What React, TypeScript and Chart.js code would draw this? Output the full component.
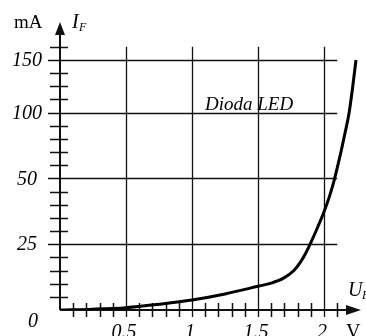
import React, { useEffect, useRef } from "react";
import { Chart, registerables } from "chart.js";

Chart.register(...registerables);

// Forward voltage (V) and forward current (mA) of the LED
const voltages = [0, 0.25, 0.5, 0.75, 1.0, 1.25, 1.5, 1.6, 1.69, 1.77, 1.82, 1.86, 1.9, 1.95, 2.0, 2.04, 2.075, 2.1, 2.13, 2.16, 2.19, 2.215, 2.242];
const currents = [0, 0.3, 0.9, 2.2, 3.8, 6.1, 9, 10.2, 12, 14.9, 18.1, 21.5, 25.6, 31.25, 37.35, 43, 49, 58, 71, 85, 100, 122.5, 150];

// X axis ticks
const xMajorTicks = [0.5, 1, 1.5, 2];
const xTickLabels = ["0.5", "1", "1.5", "2"];
const xMinorStep = 0.1;
const xMinorCount = 21;

// Y axis: non-linear (piecewise) scale in mA
const yTickValues = [25, 50, 100, 150];
const yTickLabels = ["25", "50", "100", "150"];
const yBreaksMA = [0, 25, 50, 100, 150, 162.5];
const yBreaksUnits = [0, 5, 10, 15, 19, 20];

const seriesLabel = "Dioda LED";

function toUnits(mA: number): number {
  for (let i = 0; i < yBreaksMA.length - 1; i++) {
    const a = yBreaksMA[i], b = yBreaksMA[i + 1];
    if (mA <= b || i === yBreaksMA.length - 2) {
      const t = (mA - a) / (b - a);
      return yBreaksUnits[i] + t * (yBreaksUnits[i + 1] - yBreaksUnits[i]);
    }
  }
  return 0;
}

const FONT = "'Liberation Serif', 'Times New Roman', serif";

const axesPlugin = {
  id: "axesPlugin",
  beforeDatasetsDraw(chart: any) {
    const ctx = chart.ctx as CanvasRenderingContext2D;
    const xs = chart.scales.x;
    const ys = chart.scales.y;
    const x0 = xs.getPixelForValue(0);
    const y0 = ys.getPixelForValue(0);
    const yTop = ys.getPixelForValue(20);
    const xRightGrid = xs.getPixelForValue(2.1);
    const xEnd = chart.chartArea.right;
    const yEnd = chart.chartArea.top;
    ctx.save();
    ctx.strokeStyle = "#111";
    ctx.fillStyle = "#111";

    // Grid lines
    ctx.lineWidth = 1.3;
    ctx.beginPath();
    xMajorTicks.forEach((v) => {
      const px = Math.round(xs.getPixelForValue(v)) + 0.5;
      ctx.moveTo(px, y0 + 7);
      ctx.lineTo(px, yTop);
    });
    yTickValues.forEach((v) => {
      const py = Math.round(ys.getPixelForValue(toUnits(v))) + 0.5;
      ctx.moveTo(x0 - 12, py);
      ctx.lineTo(xRightGrid, py);
    });
    ctx.stroke();

    // Minor ticks
    ctx.lineWidth = 1.5;
    ctx.beginPath();
    for (let i = 1; i <= xMinorCount; i++) {
      const v = i * xMinorStep;
      if (xMajorTicks.some((m) => Math.abs(m - v) < 1e-6)) continue;
      const px = Math.round(xs.getPixelForValue(v)) + 0.5;
      ctx.moveTo(px, y0 - 7);
      ctx.lineTo(px, y0 + 7);
    }
    for (let u = 1; u <= 20; u++) {
      if (yBreaksUnits.slice(1, 5).includes(u)) continue;
      const py = Math.round(ys.getPixelForValue(u)) + 0.5;
      ctx.moveTo(x0 - 10, py);
      ctx.lineTo(x0 + 8, py);
    }
    ctx.stroke();

    // Axes
    ctx.lineWidth = 2;
    ctx.beginPath();
    ctx.moveTo(x0, y0);
    ctx.lineTo(xEnd - 10, y0);
    ctx.moveTo(x0, y0);
    ctx.lineTo(x0, yEnd + 10);
    ctx.stroke();
    // Arrow heads
    ctx.beginPath();
    ctx.moveTo(xEnd, y0);
    ctx.lineTo(xEnd - 15, y0 - 5);
    ctx.lineTo(xEnd - 15, y0 + 5);
    ctx.closePath();
    ctx.fill();
    ctx.beginPath();
    ctx.moveTo(x0, yEnd);
    ctx.lineTo(x0 - 5, yEnd + 13);
    ctx.lineTo(x0 + 5, yEnd + 13);
    ctx.closePath();
    ctx.fill();

    // Tick labels
    ctx.fillStyle = "#000";
    ctx.font = `italic 20px ${FONT}`;
    ctx.textAlign = "center";
    ctx.textBaseline = "middle";
    yTickValues.forEach((v, i) => {
      const py = ys.getPixelForValue(toUnits(v));
      ctx.fillText(yTickLabels[i], 27, py + 1);
    });
    ctx.fillText("0", 33, 322);
    ctx.textBaseline = "alphabetic";
    xMajorTicks.forEach((v, i) => {
      const px = xs.getPixelForValue(v);
      ctx.fillText(xTickLabels[i], px - 2, 338);
    });

    // Axis titles
    ctx.textAlign = "left";
    ctx.font = `19px ${FONT}`;
    ctx.fillText("mA", 14, 28);
    ctx.font = `italic 20px ${FONT}`;
    ctx.fillText("I", 72, 28);
    ctx.font = `italic 12px ${FONT}`;
    ctx.fillText("F", 79, 31);
    ctx.font = `italic 20px ${FONT}`;
    ctx.fillText("U", 348, 296);
    ctx.font = `italic 12px ${FONT}`;
    ctx.fillText("F", 362, 299);
    ctx.font = `20px ${FONT}`;
    ctx.fillText("V", 346, 338);

    // Series label
    ctx.font = `italic 19px ${FONT}`;
    ctx.fillText(seriesLabel, 205, 110);
    ctx.restore();
  },
};

export default function App() {
  const canvasRef = useRef<HTMLCanvasElement | null>(null);
  useEffect(() => {
    if (!canvasRef.current) return;
    const data = voltages.map((v, i) => ({ x: v, y: toUnits(currents[i]) }));
    const chart = new Chart(canvasRef.current, {
      type: "line",
      data: {
        datasets: [
          {
            label: seriesLabel,
            data,
            borderColor: "#000",
            borderWidth: 3,
            pointRadius: 0,
            fill: false,
            cubicInterpolationMode: "monotone",
          },
        ],
      },
      options: {
        responsive: false,
        animation: false,
        devicePixelRatio: 1,
        layout: { padding: { left: 60, right: 5, top: 22, bottom: 26 } },
        plugins: { legend: { display: false }, tooltip: { enabled: false } },
        scales: {
          x: { type: "linear", min: 0, max: 2.28, display: false },
          y: { type: "linear", min: 0, max: 21.89, display: false },
        },
      },
      plugins: [axesPlugin],
    });
    return () => chart.destroy();
  }, []);
  return (
    <div style={{ position: "absolute", left: 0, top: 0, width: 366, height: 336, background: "#fff" }}>
      <canvas ref={canvasRef} width={366} height={336} style={{ width: 366, height: 336 }} />
    </div>
  );
}
